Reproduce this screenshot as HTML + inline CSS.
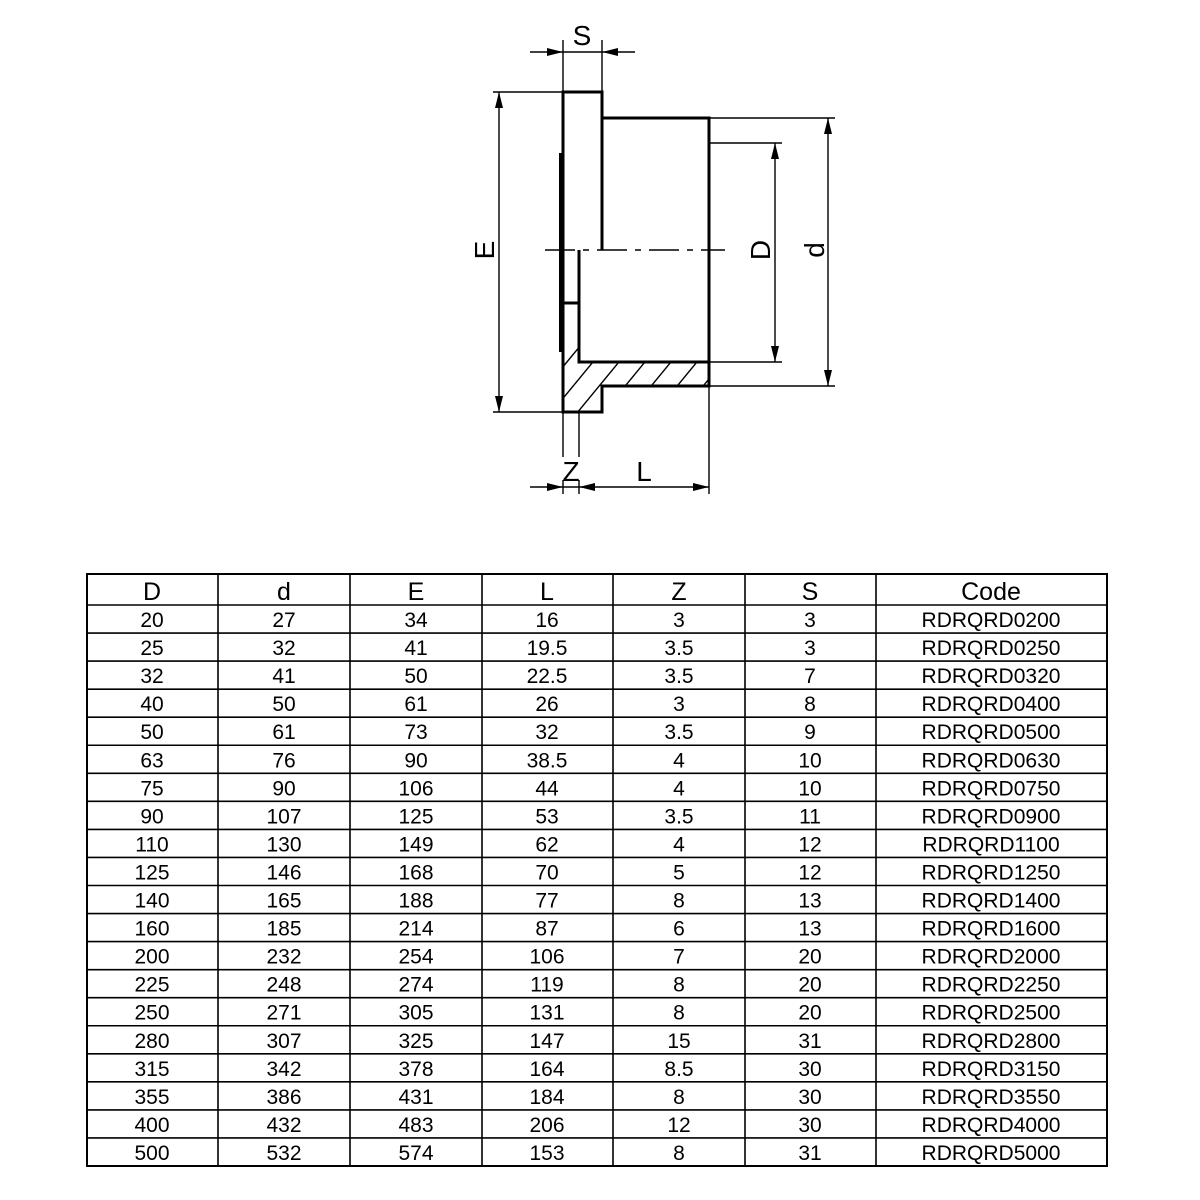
<!DOCTYPE html>
<html><head><meta charset="utf-8"><style>
html,body{margin:0;padding:0;background:#fff;}
svg{display:block;}
text{font-family:"Liberation Sans",Arial,sans-serif;fill:#000;}
</style></head><body>
<svg width="1200" height="1200" viewBox="0 0 1200 1200" xmlns="http://www.w3.org/2000/svg">
<defs>
<clipPath id="hc">
<path d="M563,303 H579 V362 H709 V386 H602 V412 H563 Z"/>
</clipPath>
</defs>
<g clip-path="url(#hc)" stroke="#000" stroke-width="1.4">
<line x1="478" y1="470" x2="618" y2="300"/>
<line x1="504" y1="470" x2="644" y2="300"/>
<line x1="530" y1="470" x2="670" y2="300"/>
<line x1="556" y1="470" x2="696" y2="300"/>
<line x1="582" y1="470" x2="722" y2="300"/>
<line x1="608" y1="470" x2="748" y2="300"/>
<line x1="634" y1="470" x2="774" y2="300"/>
<line x1="660" y1="470" x2="800" y2="300"/>
<line x1="686" y1="470" x2="826" y2="300"/>
</g>
<g fill="none" stroke="#000" stroke-width="3">
<path d="M563,92 H602 V118 H709 V386 H602 V412 H563 Z"/>
<line x1="602" y1="118" x2="602" y2="250"/>
<path d="M579,250 V362 H709"/>
<line x1="563" y1="303" x2="579" y2="303"/>
</g>
<line x1="561" y1="153" x2="561" y2="352" stroke="#000" stroke-width="4"/>
<line x1="545" y1="250" x2="725" y2="250" stroke="#000" stroke-width="1.4" stroke-dasharray="30,8,6,8"/>
<g stroke="#000" stroke-width="1.4">
<line x1="493" y1="92" x2="563" y2="92"/>
<line x1="493" y1="412" x2="563" y2="412"/>
<line x1="499" y1="92" x2="499" y2="412"/>
<line x1="709" y1="143" x2="782" y2="143"/>
<line x1="709" y1="362" x2="782" y2="362"/>
<line x1="775" y1="143" x2="775" y2="362"/>
<line x1="709" y1="118" x2="835" y2="118"/>
<line x1="709" y1="386" x2="835" y2="386"/>
<line x1="828" y1="118" x2="828" y2="386"/>
<line x1="563" y1="40" x2="563" y2="92"/>
<line x1="602" y1="40" x2="602" y2="92"/>
<line x1="530" y1="52" x2="635" y2="52"/>
<line x1="563" y1="412" x2="563" y2="457"/>
<line x1="579" y1="412" x2="579" y2="457"/>
<line x1="563" y1="480" x2="563" y2="494"/>
<line x1="579" y1="480" x2="579" y2="494"/>
<line x1="709" y1="386" x2="709" y2="494"/>
<line x1="530" y1="487" x2="709" y2="487"/>
</g>
<g fill="#000">
<path d="M499,92 l-4,16 h8 Z"/>
<path d="M499,412 l-4,-16 h8 Z"/>
<path d="M775,143 l-4,16 h8 Z"/>
<path d="M775,362 l-4,-16 h8 Z"/>
<path d="M828,118 l-4,16 h8 Z"/>
<path d="M828,386 l-4,-16 h8 Z"/>
<path d="M563,52 l-16,-4 v8 Z"/>
<path d="M602,52 l16,-4 v8 Z"/>
<path d="M563,487 l-16,-4 v8 Z"/>
<path d="M579,487 l16,-4 v8 Z"/>
<path d="M709,487 l-16,-4 v8 Z"/>
</g>
<text x="582" y="45" font-size="28" text-anchor="middle">S</text>
<text x="571" y="481" font-size="28" text-anchor="middle">Z</text>
<text x="644" y="481" font-size="28" text-anchor="middle">L</text>
<text transform="translate(494,250) rotate(-90)" font-size="28" text-anchor="middle">E</text>
<text transform="translate(770,250) rotate(-90)" font-size="28" text-anchor="middle">D</text>
<text transform="translate(824,250) rotate(-90)" font-size="28" text-anchor="middle">d</text>

<g stroke="#000" stroke-width="1.6" fill="none">
<rect x="87" y="574" width="1020" height="592" stroke-width="2"/>
<line x1="218" y1="574" x2="218" y2="1166"/>
<line x1="350" y1="574" x2="350" y2="1166"/>
<line x1="482" y1="574" x2="482" y2="1166"/>
<line x1="613" y1="574" x2="613" y2="1166"/>
<line x1="745" y1="574" x2="745" y2="1166"/>
<line x1="876" y1="574" x2="876" y2="1166"/>
</g>
<g id="rows"></g>
<g font-size="25" text-anchor="middle">
<text x="152" y="600">D</text><text x="284" y="600">d</text><text x="416" y="600">E</text><text x="547" y="600">L</text><text x="679" y="600">Z</text><text x="810" y="600">S</text><text x="991" y="600">Code</text>
</g>
</svg>
<script>
(function(){
var data=[
["20","27","34","16","3","3","RDRQRD0200"],
["25","32","41","19.5","3.5","3","RDRQRD0250"],
["32","41","50","22.5","3.5","7","RDRQRD0320"],
["40","50","61","26","3","8","RDRQRD0400"],
["50","61","73","32","3.5","9","RDRQRD0500"],
["63","76","90","38.5","4","10","RDRQRD0630"],
["75","90","106","44","4","10","RDRQRD0750"],
["90","107","125","53","3.5","11","RDRQRD0900"],
["110","130","149","62","4","12","RDRQRD1100"],
["125","146","168","70","5","12","RDRQRD1250"],
["140","165","188","77","8","13","RDRQRD1400"],
["160","185","214","87","6","13","RDRQRD1600"],
["200","232","254","106","7","20","RDRQRD2000"],
["225","248","274","119","8","20","RDRQRD2250"],
["250","271","305","131","8","20","RDRQRD2500"],
["280","307","325","147","15","31","RDRQRD2800"],
["315","342","378","164","8.5","30","RDRQRD3150"],
["355","386","431","184","8","30","RDRQRD3550"],
["400","432","483","206","12","30","RDRQRD4000"],
["500","532","574","153","8","31","RDRQRD5000"]];
var cx=[152,284,416,547,679,810,991];
var g=document.getElementById("rows"),h="";
for(var i=0;i<20;i++){
 var top=605+i*28.05;
 h+='<line x1="87" y1="'+top+'" x2="1107" y2="'+top+'" stroke="#000" stroke-width="1.6"/>';
 for(var j=0;j<7;j++){
  h+='<text x="'+cx[j]+'" y="'+(top+22)+'" font-size="21" text-anchor="middle">'+data[i][j]+'</text>';
 }
}
g.innerHTML=h;
})();
</script>
</body></html>
